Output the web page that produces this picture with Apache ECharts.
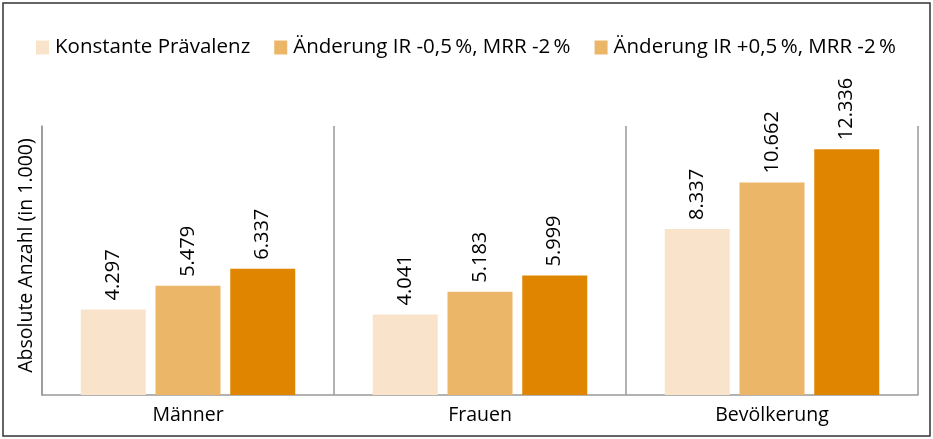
<!DOCTYPE html>
<html>
<head>
<meta charset="utf-8">
<script src="https://cdn.jsdelivr.net/npm/echarts@6/dist/echarts.min.js"></script>
<style>
html,body{margin:0;padding:0;background:#fff;}
#c{width:933px;height:439px;}
</style>
</head>
<body>
<div id="c"></div>
<script>
const categories = ['Männer', 'Frauen', 'Bevölkerung'];
const seriesNames = ['Konstante Prävalenz', 'Änderung IR -0,5\u2009%, MRR -2\u2009%', 'Änderung IR +0,5\u2009%, MRR -2\u2009%'];
const konstante = [4.297, 4.041, 8.337];
const irMinus = [5.479, 5.183, 10.662];
const irPlus = [6.337, 5.999, 12.336];
const yAxisTitle = 'Absolute Anzahl (in 1.000)';

const colors = ['#F9E4CB', '#ECB669', '#E08500'];
const legendColors = ['#F9E4CB', '#ECB669', '#ECB669'];
const FONT = 'Open Sans';
const values = [konstante, irMinus, irPlus];

const chart = echarts.init(document.getElementById('c'), null, {renderer: 'canvas'});
chart.setOption({
  animation: false,
  textStyle: {fontFamily: FONT},
  graphic: [{
    type: 'rect',
    shape: {x: 3, y: 3, width: 927, height: 433},
    style: {fill: 'none', stroke: '#333', lineWidth: 1.5},
    silent: true
  }],
  legend: {
    left: 31,
    top: 32,
    itemWidth: 13,
    itemHeight: 14,
    itemGap: 24,
    icon: 'rect',
    textStyle: {fontSize: 20.5, color: '#000', fontFamily: FONT, padding: [0, 0, 0, 1]},
    data: seriesNames.map((n, i) => ({name: n, itemStyle: {color: legendColors[i]}}))
  },
  grid: {left: 42, right: 15, top: 126, bottom: 44, outerBoundsMode: 'none', containLabel: false},
  xAxis: {
    type: 'category',
    data: categories,
    boundaryGap: true,
    axisLine: {show: true, lineStyle: {color: '#999', width: 1.5}},
    axisTick: {show: false},
    splitLine: {show: true, lineStyle: {color: '#999', width: 1.5}},
    axisLabel: {fontSize: 19.5, color: '#000', margin: 10, fontFamily: FONT}
  },
  yAxis: {
    type: 'value',
    min: 0,
    max: 13.5,
    name: yAxisTitle,
    nameLocation: 'middle',
    nameGap: 6,
    nameTextStyle: {fontSize: 19.5, color: '#000', fontFamily: FONT, padding: [0, 0, 0, 10]},
    axisLine: {show: true, lineStyle: {color: '#999', width: 1.5}},
    axisTick: {show: false},
    axisLabel: {show: false},
    splitLine: {show: false}
  },
  series: seriesNames.map((n, i) => ({
    name: n,
    type: 'bar',
    data: values[i],
    barWidth: 65,
    barGap: '15%',
    itemStyle: {color: colors[i]},
    label: {
      show: true,
      position: 'top',
      rotate: 90,
      align: 'left',
      verticalAlign: 'middle',
      distance: 9,
      fontSize: 20,
      color: '#000',
      fontFamily: FONT,
      formatter: p => p.value.toFixed(3)
    }
  }))
});
</script>
</body>
</html>
